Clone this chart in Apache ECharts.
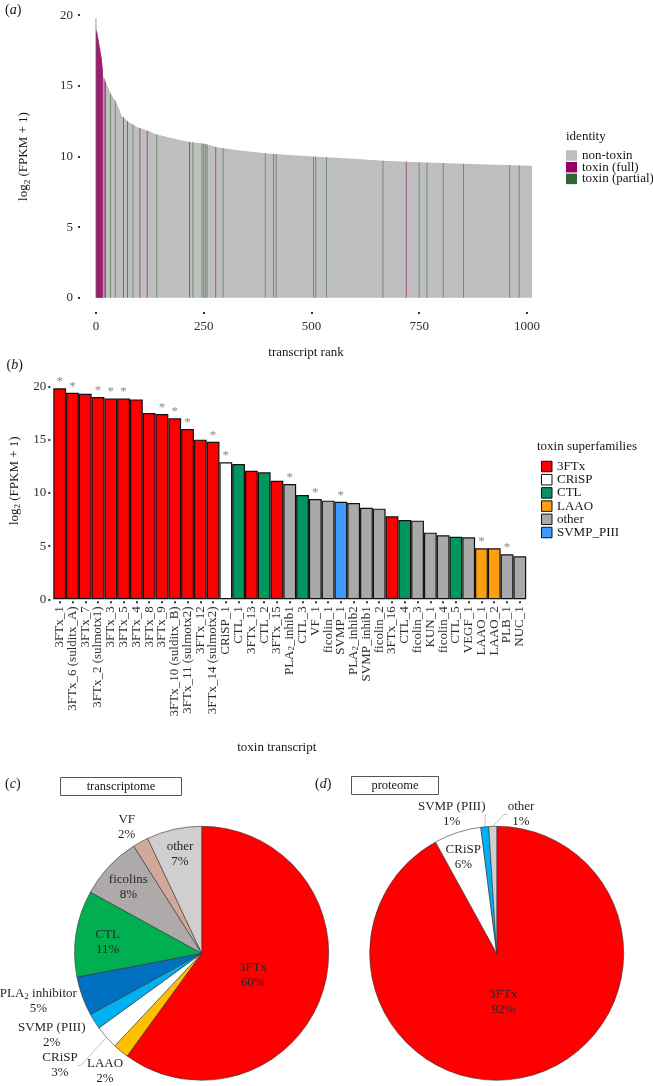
<!DOCTYPE html>
<html>
<head>
<meta charset="utf-8">
<script src="https://cdn.jsdelivr.net/npm/echarts@6.0.0/dist/echarts.min.js"></script>
<style>
html,body{margin:0;padding:0;background:#ffffff;}
#chart{width:653px;height:1086px;}
</style>
</head>
<body>
<div id="chart"></div>
<script>
// ---------------- (a) transcript rank panel ----------------
const RANK_TICKS = [0, 250, 500, 750, 1000];
const LOG_TICKS = [0, 5, 10, 15, 20];
// non-toxin expression profile
const CURVE_RANK = [0, 1, 3, 5, 7, 9, 11, 13, 15, 17, 22, 28, 35, 44, 52, 60, 65, 75, 98, 126, 137, 175, 214, 253, 281, 330, 397, 450, 513, 560, 668, 750, 853, 950, 1012];
const CURVE_VALUE = [19.8, 18.93, 18.7, 18.35, 18.0, 17.65, 17.3, 16.93, 16.3, 15.7, 15.3, 14.9, 14.4, 14.0, 13.5, 12.85, 12.75, 12.45, 12.05, 11.76, 11.6, 11.3, 11.05, 10.9, 10.65, 10.45, 10.22, 10.1, 9.98, 9.92, 9.7, 9.6, 9.49, 9.4, 9.35];
// toxin (full) transcripts
const FULL_RANK = [1, 2, 3, 4, 5, 6, 7, 8, 9, 10, 11, 12, 13, 14, 15, 19, 22, 64, 73, 102, 119, 217, 278, 720];
const FULL_VALUE = [18.93, 18.8, 18.7, 18.5, 18.35, 18.2, 18.0, 17.8, 17.65, 17.45, 17.3, 17.1, 16.93, 16.6, 16.3, 15.5, 15.3, 12.77, 12.5, 12.02, 11.8, 11.03, 10.67, 9.64];
// toxin (partial) transcripts
const PARTIAL_RANK = [0, 34, 45, 86, 141, 225, 246, 250, 254, 258, 295, 393, 412, 418, 505, 510, 535, 666, 750, 768, 806, 853, 960, 982];
const PARTIAL_VALUE = [19.8, 14.45, 13.95, 12.25, 11.57, 11.0, 10.92, 10.9, 10.88, 10.85, 10.6, 10.23, 10.2, 10.18, 9.99, 9.98, 9.95, 9.7, 9.6, 9.58, 9.54, 9.49, 9.4, 9.38];

// ---------------- (b) toxin transcripts ----------------
const TOXINS = ['3FTx_1', '3FTx_6 (sulditx_A)', '3FTx_7', '3FTx_2 (sulmotx1)', '3FTx_3', '3FTx_5', '3FTx_4', '3FTx_8', '3FTx_9', '3FTx_10 (sulditx_B)', '3FTx_11 (sulmotx2)', '3FTx_12', '3FTx_14 (sulmotx2)', 'CRiSP_1', 'CTL_1', '3FTx_13', 'CTL_2', '3FTx_15', 'PLA2_inhib1', 'CTL_3', 'VF_1', 'ficolin_1', 'SVMP_1', 'PLA2_inhib2', 'SVMP_inhib1', 'ficolin_2', '3FTx_16', 'CTL_4', 'ficolin_3', 'KUN_1', 'ficolin_4', 'CTL_5', 'VEGF_1', 'LAAO_1', 'LAAO_2', 'PLB_1', 'NUC_1'];
const TOXIN_VALUE = [19.85, 19.44, 19.34, 19.03, 18.9, 18.9, 18.81, 17.53, 17.43, 17.03, 16.02, 15.02, 14.83, 12.89, 12.73, 12.1, 11.95, 11.16, 10.85, 9.81, 9.44, 9.28, 9.18, 9.06, 8.62, 8.53, 7.81, 7.46, 7.4, 6.27, 6.02, 5.89, 5.83, 4.8, 4.8, 4.23, 4.04];
const TOXIN_FAMILY = ['3FTx', '3FTx', '3FTx', '3FTx', '3FTx', '3FTx', '3FTx', '3FTx', '3FTx', '3FTx', '3FTx', '3FTx', '3FTx', 'CRiSP', 'CTL', '3FTx', 'CTL', '3FTx', 'other', 'CTL', 'other', 'other', 'SVMP_PIII', 'other', 'other', 'other', '3FTx', 'CTL', 'other', 'other', 'other', 'CTL', 'other', 'LAAO', 'LAAO', 'other', 'other'];
const TOXIN_STAR = [1, 1, 0, 1, 1, 1, 0, 0, 1, 1, 1, 0, 1, 1, 0, 0, 0, 0, 1, 0, 1, 0, 1, 0, 0, 0, 0, 0, 0, 0, 0, 0, 0, 1, 0, 1, 0];
const FAMILIES = ['3FTx', 'CRiSP', 'CTL', 'LAAO', 'other', 'SVMP_PIII'];

// ---------------- (c) transcriptome, (d) proteome ----------------
const TRANS_NAMES = ['3FTx', 'LAAO', 'CRiSP', 'SVMP (PIII)', 'PLA2 inhibitor', 'CTL', 'ficolins', 'VF', 'other'];
const TRANS_PCT = [60, 2, 3, 2, 5, 11, 8, 2, 7];
const PROT_NAMES = ['3FTx', 'CRiSP', 'SVMP (PIII)', 'other'];
const PROT_PCT = [92, 6, 1, 1];

// ---------------- styles ----------------
const FONT = 'Liberation Serif';
const INK = '#151515';
const TICK_INK = '#2e2e2e';
const FAMILY_COLOR = {'3FTx': '#ff0000', 'CRiSP': '#ffffff', 'CTL': '#00965e', 'LAAO': '#ff9f10', 'other': '#a9a9a9', 'SVMP_PIII': '#3d9bff'};
const PIE_COLOR = {'3FTx': '#ff0000', 'LAAO': '#ffc000', 'CRiSP': '#ffffff', 'SVMP (PIII)': '#00b0f0', 'PLA2 inhibitor': '#0070c0', 'CTL': '#00b050', 'ficolins': '#aeaaaa', 'VF': '#d3a89c', 'other': '#d0cece'};
const INSIDE_C = ['3FTx', 'CTL', 'ficolins', 'other'];
const INSIDE_D = ['3FTx', 'CRiSP'];
const LINE_C = ['CRiSP'];
const LINE_D = ['SVMP (PIII)', 'other'];
const LABEL_POS_C = {'3FTx': [253, 975], 'LAAO': [105, 1071.5], 'CRiSP': [60, 1065.5], 'SVMP (PIII)': [51.7, 1035], 'PLA2 inhibitor': [38.3, 1001.5], 'CTL': [107.7, 942.5], 'ficolins': [128.3, 887.5], 'VF': [126.7, 826.7], 'other': [180, 854.2]};
const LABEL_POS_D = {'3FTx': [503.3, 1002.5], 'CRiSP': [463.3, 857.5], 'SVMP (PIII)': [451.7, 814.2], 'other': [521, 814.2]};

const sub = s => s.replace('PLA2', 'PLA{s|2}');
const SUB_RICH = {s: {fontSize: 9, fontFamily: FONT, verticalAlign: 'bottom', lineHeight: 9}};
const tickStyle = {color: '#333333', width: 2};

function pieSeries(names, pct, center, inside, lines, pos) {
  return {
    type: 'pie',
    center: center,
    radius: 127,
    startAngle: 90,
    clockwise: true,
    avoidLabelOverlap: false,
    silent: true,
    emphasis: {disabled: true},
    itemStyle: {borderColor: '#333333', borderWidth: 0.6},
    label: {
      position: 'outside', fontSize: 13, fontFamily: FONT, color: '#262626', lineHeight: 15,
      formatter: p => sub(p.name) + '\n' + p.value + '%',
      rich: SUB_RICH
    },
    labelLine: {length: 8, length2: 3, lineStyle: {color: '#b5b5b5', width: 0.8}},
    labelLayout: p => {
      const xy = pos[names[p.dataIndex]];
      return {x: xy[0], y: xy[1], align: 'center', verticalAlign: 'middle'};
    },
    data: names.map((n, i) => ({
      name: n,
      value: pct[i],
      itemStyle: {color: PIE_COLOR[n]},
      label: {position: inside.includes(n) ? 'inside' : 'outside'},
      labelLine: {show: lines.includes(n)}
    }))
  };
}

function letter(ch, x, y) {
  return {
    type: 'text', x: x, y: y, silent: true,
    style: {
      text: '({i|' + ch + '})', fontSize: 14, fontFamily: FONT, fill: INK,
      align: 'left', verticalAlign: 'middle',
      rich: {i: {fontSize: 14, fontFamily: FONT, fontStyle: 'italic', fill: INK}}
    }
  };
}

const option = {
  animation: false,
  backgroundColor: '#ffffff',
  textStyle: {fontFamily: FONT},
  grid: [
    {left: 80, top: 1, width: 468, height: 311, outerBoundsMode: 'none', containLabel: false},
    {left: 53.3, top: 376.1, width: 472.9, height: 223.2, outerBoundsMode: 'none', containLabel: false}
  ],
  xAxis: [
    {
      gridIndex: 0, type: 'value', min: -37, max: 1049,
      axisLine: {show: false, onZero: false}, splitLine: {show: false},
      axisTick: {show: true, length: 2, customValues: RANK_TICKS, lineStyle: tickStyle},
      axisLabel: {customValues: RANK_TICKS, margin: 8, fontSize: 13, fontFamily: FONT, color: TICK_INK,
        formatter: v => String(v)},
      name: 'transcript rank', nameLocation: 'middle', nameGap: 34,
      nameTextStyle: {fontSize: 13, fontFamily: FONT, color: INK, padding: [0, 16, 0, 0]}
    },
    {
      gridIndex: 1, type: 'category', data: TOXINS, offset: 2,
      axisLine: {show: false, onZero: false}, splitLine: {show: false},
      axisTick: {show: true, alignWithLabel: true, interval: 0, length: 2, lineStyle: tickStyle},
      axisLabel: {interval: 0, rotate: 90, margin: 5, fontSize: 13, fontFamily: FONT, color: TICK_INK,
        formatter: v => sub(v), rich: SUB_RICH},
      name: 'toxin transcript', nameLocation: 'middle', nameGap: 140,
      nameTextStyle: {fontSize: 13, fontFamily: FONT, color: INK, padding: [0, 26, 0, 0]}
    }
  ],
  yAxis: [
    {
      gridIndex: 0, type: 'value', min: -1, max: 21,
      axisLine: {show: false, onZero: false}, splitLine: {show: false},
      axisTick: {show: true, length: 2, customValues: LOG_TICKS, lineStyle: tickStyle},
      axisLabel: {customValues: LOG_TICKS, margin: 7, fontSize: 13, fontFamily: FONT, color: TICK_INK},
      name: 'log{s|2} (FPKM + 1)', nameLocation: 'middle', nameGap: 48, nameRotate: 90,
      nameTextStyle: {fontSize: 13, fontFamily: FONT, color: INK, lineHeight: 16, rich: SUB_RICH}
    },
    {
      gridIndex: 1, type: 'value', min: 0, max: 21, offset: 3,
      axisLine: {show: false, onZero: false}, splitLine: {show: false},
      axisTick: {show: true, length: 2, customValues: LOG_TICKS, lineStyle: tickStyle},
      axisLabel: {customValues: LOG_TICKS, margin: 4, fontSize: 13, fontFamily: FONT, color: TICK_INK},
      name: 'log{s|2} (FPKM + 1)', nameLocation: 'middle', nameGap: 27, nameRotate: 90,
      nameTextStyle: {fontSize: 13, fontFamily: FONT, color: INK, lineHeight: 16, rich: SUB_RICH, padding: [0, 0, 0, 14]}
    }
  ],
  legend: [
    {
      left: 566, top: 149, orient: 'vertical', padding: 0,
      itemWidth: 11, itemHeight: 10.5, itemGap: -1.3, selectedMode: false,
      textStyle: {fontSize: 13, fontFamily: FONT, color: INK, lineHeight: 11},
      itemStyle: {borderWidth: 0},
      data: [
        {name: 'non-toxin', icon: 'rect', itemStyle: {color: '#bebebe', opacity: 1}},
        {name: 'toxin (full)', icon: 'rect', itemStyle: {color: '#990066', opacity: 1}},
        {name: 'toxin (partial)', icon: 'rect', itemStyle: {color: '#336633', opacity: 1}}
      ]
    },
    {
      left: 541, top: 460, orient: 'vertical', padding: 0,
      itemWidth: 10.5, itemHeight: 10.5, itemGap: 0.2, selectedMode: false, icon: 'rect',
      textStyle: {fontSize: 13, fontFamily: FONT, color: INK, lineHeight: 11},
      itemStyle: {borderColor: '#111111', borderWidth: 1},
      data: FAMILIES
    }
  ],
  series: [
    {
      name: 'non-toxin', type: 'line', xAxisIndex: 0, yAxisIndex: 0,
      data: CURVE_RANK.map((r, i) => [r, CURVE_VALUE[i]]),
      symbol: 'none', showSymbol: false, color: '#bebebe',
      lineStyle: {width: 0}, areaStyle: {color: '#bebebe', opacity: 1}, z: 1, silent: true
    },
    {
      name: 'toxin (full)', type: 'bar', xAxisIndex: 0, yAxisIndex: 0,
      data: FULL_RANK.map((r, i) => [r, FULL_VALUE[i]]),
      barGap: '-100%', barCategoryGap: '0%', barMinWidth: 0.9,
      itemStyle: {color: '#990066', opacity: 0.68}, z: 3, silent: true
    },
    {
      name: 'toxin (partial)', type: 'bar', xAxisIndex: 0, yAxisIndex: 0,
      data: PARTIAL_RANK.map((r, i) => [r, PARTIAL_VALUE[i]]),
      barGap: '-100%', barCategoryGap: '0%', barMinWidth: 0.9,
      itemStyle: {color: '#336633', opacity: 0.6}, z: 3, silent: true
    }
  ].concat(FAMILIES.map(f => ({
    name: f, type: 'bar', xAxisIndex: 1, yAxisIndex: 1, stack: 'toxins',
    barCategoryGap: 0,
    data: TOXIN_VALUE.map((v, i) => TOXIN_FAMILY[i] === f ? v : '-'),
    itemStyle: {color: FAMILY_COLOR[f], borderColor: '#111111', borderWidth: 1.2},
    label: {show: true, position: 'top', distance: 0, color: '#8a8a8a', fontSize: 13, fontFamily: FONT,
      formatter: p => TOXIN_STAR[p.dataIndex] ? '*' : ''},
    silent: true
  }))).concat([
    pieSeries(TRANS_NAMES, TRANS_PCT, [201.7, 953.3], INSIDE_C, LINE_C, LABEL_POS_C),
    pieSeries(PROT_NAMES, PROT_PCT, [496.7, 953.3], INSIDE_D, LINE_D, LABEL_POS_D)
  ]),
  graphic: [
    letter('a', 5, 10),
    letter('b', 6.5, 365),
    letter('c', 5, 784),
    letter('d', 315, 784),
    {type: 'text', x: 566, y: 137, silent: true,
      style: {text: 'identity', fontSize: 13, fontFamily: FONT, fill: INK, align: 'left', verticalAlign: 'middle'}},
    {type: 'text', x: 537, y: 447, silent: true,
      style: {text: 'toxin superfamilies', fontSize: 13, fontFamily: FONT, fill: INK, align: 'left', verticalAlign: 'middle'}},
    {type: 'rect', silent: true, shape: {x: 60.5, y: 777.5, width: 121, height: 18},
      style: {fill: '#ffffff', stroke: '#555555', lineWidth: 1}},
    {type: 'text', x: 121, y: 786.5, silent: true,
      style: {text: 'transcriptome', fontSize: 12.5, fontFamily: FONT, fill: INK, align: 'center', verticalAlign: 'middle'}},
    {type: 'rect', silent: true, shape: {x: 351.5, y: 776.5, width: 87, height: 18},
      style: {fill: '#ffffff', stroke: '#555555', lineWidth: 1}},
    {type: 'text', x: 395, y: 785.5, silent: true,
      style: {text: 'proteome', fontSize: 12.5, fontFamily: FONT, fill: INK, align: 'center', verticalAlign: 'middle'}}
  ]
};

const chart = echarts.init(document.getElementById('chart'), null, {renderer: 'canvas', width: 653, height: 1086});
chart.setOption(option);
</script>
</body>
</html>
